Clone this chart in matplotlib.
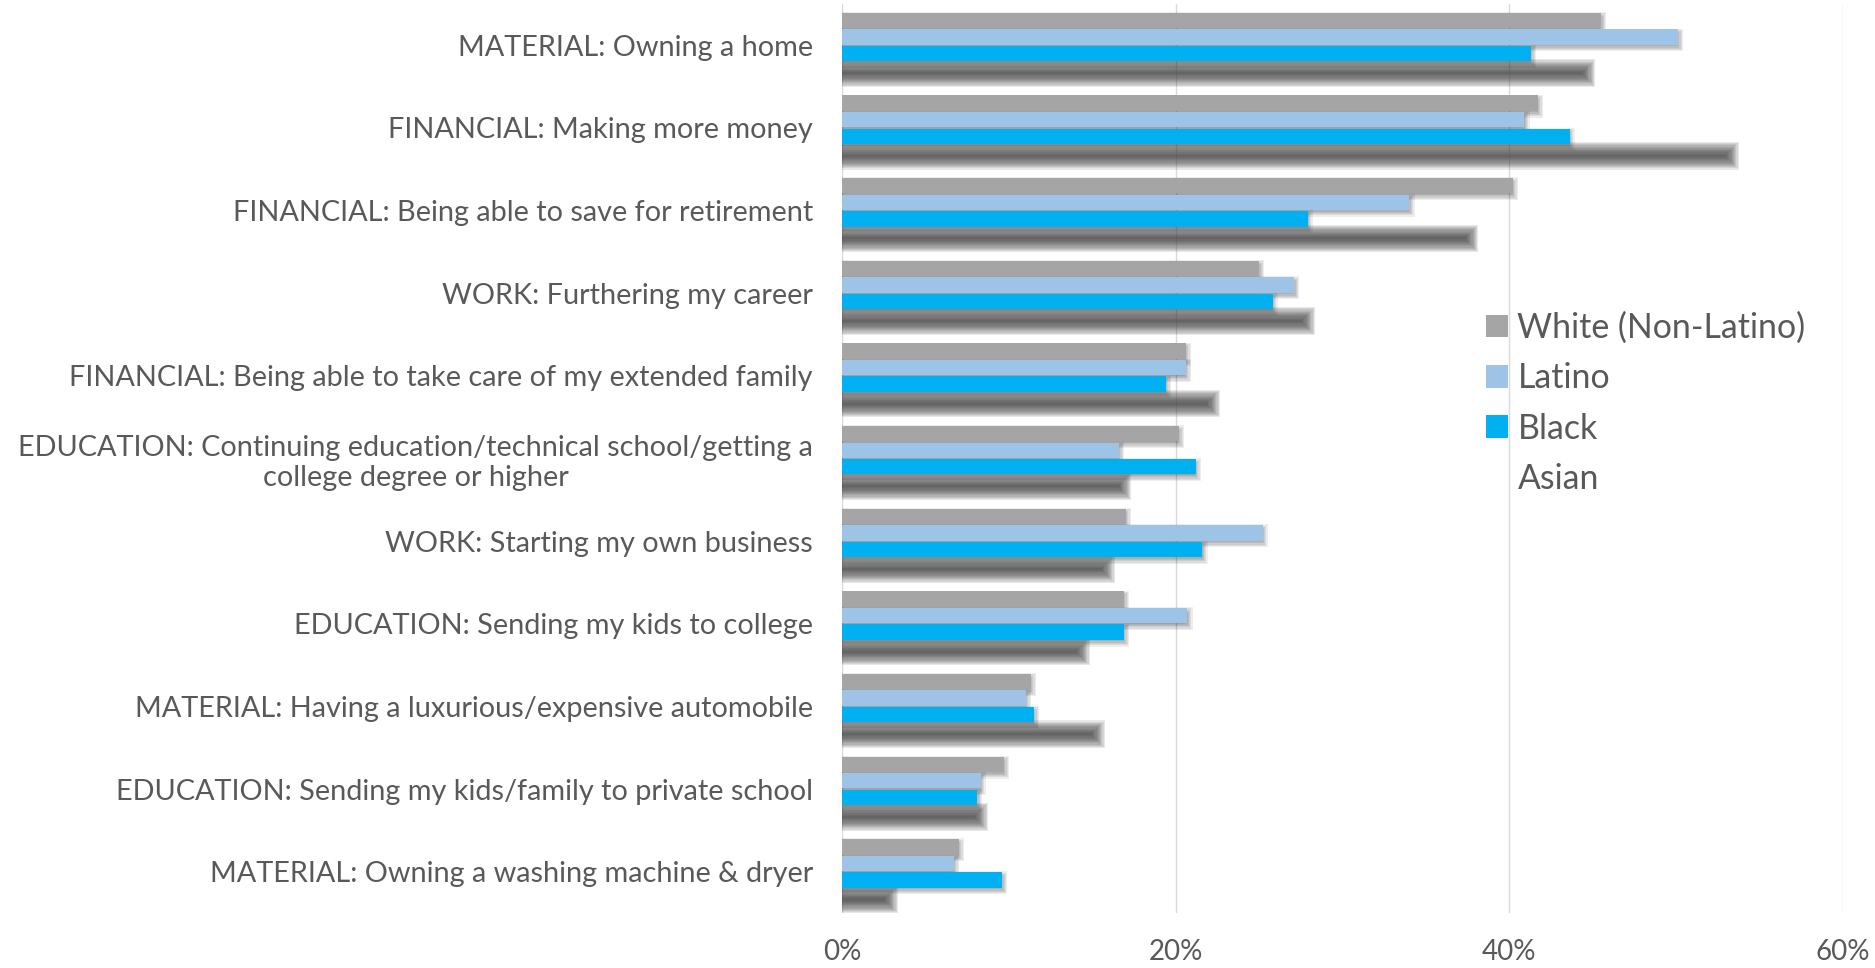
import matplotlib
matplotlib.use("Agg")
import matplotlib.pyplot as plt
from matplotlib.patches import Patch
from matplotlib.ticker import FuncFormatter

# ---- data (percent of respondents) ----
categories = [
    "MATERIAL: Owning a home",
    "FINANCIAL: Making more money",
    "FINANCIAL: Being able to save for retirement",
    "WORK: Furthering my career",
    "FINANCIAL: Being able to take care of my extended family",
    "EDUCATION: Continuing education/technical school/getting a\ncollege degree or higher",
    "WORK: Starting my own business",
    "EDUCATION: Sending my kids to college",
    "MATERIAL: Having a luxurious/expensive automobile",
    "EDUCATION: Sending my kids/family to private school",
    "MATERIAL: Owning a washing machine & dryer",
]
series_names = ["White (Non-Latino)", "Latino", "Black", "Asian"]
white = [45.5, 41.7, 40.2, 25.0, 20.6, 20.2, 17.0, 16.9, 11.3, 9.7, 7.0]
latino = [50.1, 40.9, 34.0, 27.1, 20.6, 16.6, 25.2, 20.7, 11.0, 8.3, 6.7]
black = [41.3, 43.6, 27.9, 25.8, 19.4, 21.2, 21.6, 16.9, 11.5, 8.1, 9.6]
asian = [44.7, 53.3, 37.7, 27.9, 22.2, 16.9, 15.9, 14.4, 15.3, 8.3, 2.9]
x_ticks = [0, 20, 40, 60]

colors = ["#A5A5A5", "#9DC3E6", "#00B0F0", None]
text_color = "#595959"
font = ["Lato", "DejaVu Sans"]

W, H, DPI = 1875, 968, 100
fig = plt.figure(figsize=(W / DPI, H / DPI), dpi=DPI)
ax_left, ax_right, ax_bottom, ax_top = 0.4491, 0.983, 0.0568, 0.9959
ax = fig.add_axes([ax_left, ax_bottom, ax_right - ax_left, ax_top - ax_bottom])

xmax = 60
n = len(categories)
ax.set_xlim(0, xmax)
ax.set_ylim(n - 0.5, -0.5)

# size of one pixel in data units
px_x = xmax / ((ax_right - ax_left) * W)
px_y = n / ((ax_top - ax_bottom) * H)

bar_h = 0.2
offsets = [-0.3, -0.1, 0.1, 0.3]


def soft_bars(ys, widths, height, color, sigma, layers, alpha, dx, dy, z):
    """Stack translucent bars of shrinking size to fake a gaussian blur."""
    for k in range(layers):
        t = k / (layers - 1)
        grow = sigma * (1.6 - 3.2 * t)
        ax.barh([y + dy * px_y for y in ys],
                [w + (dx + grow) * px_x for w in widths],
                height=max(height + 2 * grow * px_y, 0.01),
                left=0,
                color=color, alpha=alpha, linewidth=0, zorder=z)


all_series = [white, latino, black, asian]
for s, (vals, col, off) in enumerate(zip(all_series, colors, offsets)):
    ys = [i + off for i in range(n)]
    if col is None:
        # series drawn only as its soft shadow
        soft_bars(ys, vals, bar_h * 0.9, "#3c3c3c", 4.0, 12, 0.115, 1, 3, 2)
    else:
        soft_bars(ys, vals, bar_h, "#000000", 2.0, 6, 0.07, 2, 3, 2)
        ax.barh(ys, vals, height=bar_h * 0.93, color=col, linewidth=0, zorder=3,
                label=series_names[s])

# axes styling
for sp in ax.spines.values():
    sp.set_visible(False)
ax.set_xticks(x_ticks)
ax.xaxis.set_major_formatter(FuncFormatter(lambda v, p: f"{int(v)}%"))
ax.grid(axis="x", color="#D9D9D9", linewidth=1.0, zorder=0)
ax.set_axisbelow(True)
ax.set_yticks(range(n))
ax.set_yticklabels(categories)
ax.tick_params(axis="both", length=0, colors=text_color)
ax.tick_params(axis="y", pad=21)
ax.tick_params(axis="x", pad=19)
for lbl in ax.get_yticklabels():
    lbl.set_fontfamily(font)
    lbl.set_fontsize(20.8)
    lbl.set_multialignment("center")
    lbl.set_linespacing(1.2)
for lbl in ax.get_xticklabels():
    lbl.set_fontfamily(font)
    lbl.set_fontsize(20)

# legend
handles = [Patch(facecolor=c, edgecolor="none") for c in colors[:3]]
handles.append(Patch(facecolor="none", edgecolor="none"))
leg = fig.legend(handles, series_names, loc="upper left",
                 bbox_to_anchor=(0.7925, 0.678), frameon=False,
                 prop={"family": font, "size": 24.4},
                 handlelength=0.65, handleheight=0.65, handletextpad=0.28,
                 labelspacing=0.54, borderpad=0, borderaxespad=0)
for t in leg.get_texts():
    t.set_color(text_color)

fig.savefig("out.png", dpi=DPI, facecolor="white")
